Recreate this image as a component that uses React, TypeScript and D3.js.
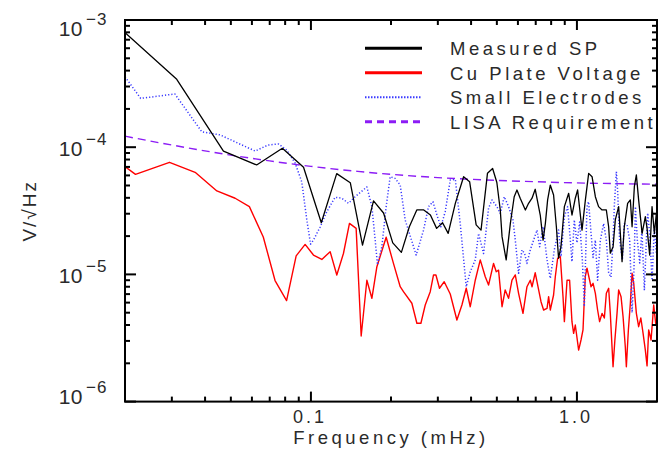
import React, { useEffect, useRef } from "react";
import * as d3 from "d3";

const WIDTH = 665;
const HEIGHT = 468;

// Measured SP (frequency in mHz, amplitude in V/sqrt(Hz))
const FREQ_SP = [
  0.0156, 0.0313, 0.0469, 0.0625, 0.0781, 0.0938, 0.1094, 0.125, 0.1406, 0.1563,
  0.1719, 0.1875, 0.2031, 0.2188, 0.2344, 0.25, 0.2656, 0.2813, 0.2969, 0.3125,
  0.3281, 0.349, 0.375, 0.395, 0.418, 0.436, 0.461, 0.482, 0.5, 0.515,
  0.523, 0.542, 0.562, 0.581, 0.595, 0.612, 0.64, 0.658, 0.678, 0.697,
  0.728, 0.746, 0.761, 0.776, 0.794, 0.817, 0.837, 0.853, 0.871, 0.897,
  0.931, 0.958, 0.986, 1.006, 1.045, 1.076, 1.107, 1.14, 1.173, 1.206,
  1.243, 1.29, 1.316, 1.335, 1.367, 1.394, 1.435, 1.456, 1.478, 1.507,
  1.551, 1.588, 1.612, 1.644, 1.673, 1.706, 1.758, 1.808, 1.835, 1.877,
  1.916, 1.955, 1.989,
];
const VAL_SP = [
  1.27e-3, 3.42e-4, 9.3e-5, 7.25e-5, 9.8e-5, 6.95e-5, 2.55e-5, 6.2e-5, 5.26e-5, 1.7e-5,
  3.79e-5, 3.04e-5, 1.77e-5, 1.49e-5, 2.37e-5, 3.21e-5, 3.21e-5, 2.93e-5, 2.3e-5, 2.55e-5,
  2.1e-5, 3.62e-5, 5.86e-5, 5.36e-5, 2.45e-5, 2.23e-5, 6.23e-5, 6.8e-5, 5.28e-5, 3.21e-5,
  1.98e-5, 1.3e-5, 2.52e-5, 4.08e-5, 4.61e-5, 3.97e-5, 3.21e-5, 3.62e-5, 3.97e-5, 4.67e-5,
  2.93e-5, 1.86e-5, 2.52e-5, 3.85e-5, 5.04e-5, 4.21e-5, 2.37e-5, 1.34e-5, 1.65e-5, 3.41e-5,
  4.34e-5, 2.93e-5, 3.97e-5, 4.61e-5, 2.23e-5, 3.85e-5, 6.23e-5, 5.86e-5, 4.08e-5, 3.41e-5,
  3.21e-5, 3.21e-5, 2.37e-5, 1.47e-5, 1.64e-5, 2.68e-5, 3.41e-5, 2.1e-5, 1.26e-5, 2.37e-5,
  3.62e-5, 3.85e-5, 2.37e-5, 4.89e-5, 6.05e-5, 3.85e-5, 2.1e-5, 2.84e-5, 2.31e-5, 1.42e-5,
  3.41e-5, 2.1e-5, 3.02e-5,
];

// Cu plate voltage
const FREQ_CU = [
  0.02, 0.0219, 0.0294, 0.0367, 0.0443, 0.0519, 0.0587, 0.0662, 0.0733, 0.081,
  0.088, 0.0951, 0.1022, 0.1099, 0.1181, 0.1251, 0.1325, 0.1396, 0.1479, 0.1545,
  0.1623, 0.1695, 0.177, 0.1918, 0.2043, 0.2166, 0.2228, 0.2396, 0.2502, 0.2591,
  0.269, 0.2809, 0.289, 0.2951, 0.3043, 0.317, 0.334, 0.3538, 0.3695, 0.3836,
  0.3972, 0.4148, 0.4331, 0.4523, 0.4654, 0.4859, 0.4974, 0.5074, 0.523, 0.5374,
  0.5534, 0.57, 0.5865, 0.6035, 0.6269, 0.6489, 0.6679, 0.678, 0.697, 0.7328,
  0.7494, 0.772, 0.7827, 0.794, 0.817, 0.8293, 0.8462, 0.866, 0.8866, 0.897,
  0.918, 0.9386, 0.958, 0.9719, 0.986, 1.015, 1.036, 1.054, 1.075, 1.091,
  1.13, 1.15, 1.173, 1.196, 1.217, 1.243, 1.268, 1.29, 1.316, 1.335,
  1.355, 1.367, 1.389, 1.415, 1.435, 1.465, 1.491, 1.52, 1.534, 1.561,
  1.588, 1.612, 1.635, 1.673, 1.706, 1.739, 1.773, 1.808, 1.835, 1.861,
  1.9, 1.944, 1.977, 2.0,
];
const VAL_CU = [
  7.03e-5, 6.12e-5, 7.61e-5, 6.35e-5, 4.53e-5, 3.97e-5, 3.41e-5, 1.97e-5, 8.95e-6, 6.23e-6,
  1.4e-5, 1.72e-5, 1.42e-5, 1.31e-5, 1.51e-5, 9.9e-6, 1.46e-5, 2.52e-5, 2.3e-5, 3.28e-6,
  9.0e-6, 6.49e-6, 1.15e-5, 1.96e-5, 1.22e-5, 8.0e-6, 7.31e-6, 5.93e-6, 4.13e-6, 4.13e-6,
  5.75e-6, 7.31e-6, 9.9e-6, 9.9e-6, 7.78e-6, 8.76e-6, 7.01e-6, 4.38e-6, 5.75e-6, 7.78e-6,
  5.57e-6, 9.0e-6, 1.3e-5, 9.59e-6, 8.25e-6, 1.22e-5, 1.05e-5, 1.08e-5, 5.57e-6, 7.54e-6,
  6.49e-6, 9.0e-6, 9.9e-6, 7.1e-6, 4.94e-6, 8.0e-6, 9.0e-6, 8.0e-6, 1.03e-5, 6.1e-6,
  5.25e-6, 5.41e-6, 6.68e-6, 5.25e-6, 6.89e-6, 9.59e-6, 1.34e-5, 1.38e-5, 6.68e-6, 4.25e-6,
  9.0e-6, 9.0e-6, 4.25e-6, 3.44e-6, 4.0e-6, 2.54e-6, 3.05e-6, 3.66e-6, 9.59e-6, 1.12e-5,
  8.0e-6, 8.51e-6, 7.1e-6, 5.25e-6, 4.25e-6, 4.94e-6, 4.54e-6, 7.1e-6, 7.78e-6, 4.94e-6,
  2.7e-6, 1.88e-6, 3.05e-6, 4.94e-6, 7.54e-6, 6.68e-6, 4.65e-6, 2.7e-6, 1.88e-6, 3.66e-6,
  5.93e-6, 1.02e-5, 8.51e-6, 4.94e-6, 3.88e-6, 4.54e-6, 3.44e-6, 2.54e-6, 1.91e-6, 3.66e-6,
  3.05e-6, 5.75e-6, 4.13e-6, 3.88e-6,
];

// Small electrodes
const FREQ_SE = [
  0.02, 0.0229, 0.0308, 0.0389, 0.0455, 0.0617, 0.069, 0.0755, 0.0811, 0.0872,
  0.0924, 0.0965, 0.0997, 0.1022, 0.1083, 0.1147, 0.1233, 0.1307, 0.1384, 0.1466,
  0.1623, 0.1695, 0.1744, 0.1779, 0.1848, 0.1918, 0.1986, 0.2073, 0.2166, 0.2261,
  0.2487, 0.2651, 0.2768, 0.2875, 0.2976, 0.308, 0.3198, 0.334, 0.349, 0.3641,
  0.3836, 0.3972, 0.4148, 0.4268, 0.4457, 0.4654, 0.4793, 0.5, 0.515, 0.5331,
  0.5534, 0.5749, 0.5865, 0.6035, 0.6216, 0.6356, 0.6489, 0.6679, 0.6873, 0.7078,
  0.7241, 0.746, 0.772, 0.794, 0.8222, 0.853, 0.871, 0.897, 0.9226, 0.9445,
  0.958, 0.9777, 1.0, 1.024, 1.048, 1.066, 1.091, 1.106, 1.13, 1.15,
  1.173, 1.196, 1.225, 1.26, 1.29, 1.316, 1.343, 1.367, 1.382, 1.407,
  1.422, 1.447, 1.482, 1.507, 1.543, 1.579, 1.612, 1.638, 1.659, 1.687,
  1.722, 1.755, 1.793, 1.824, 1.845, 1.88, 1.916, 1.955, 1.989,
];
const VAL_SE = [
  3.58e-4, 2.42e-4, 2.62e-4, 1.32e-4, 1.25e-4, 9.33e-5, 1.04e-4, 1.06e-4, 9.5e-5, 7.51e-5,
  5.33e-5, 2.68e-5, 1.73e-5, 1.86e-5, 2.36e-5, 3.11e-5, 4.04e-5, 3.97e-5, 3.62e-5, 4.08e-5,
  4.87e-5, 3.41e-5, 1.86e-5, 1.19e-5, 1.65e-5, 3.41e-5, 5.86e-5, 5.69e-5, 5.04e-5, 2.68e-5,
  1.42e-5, 2.23e-5, 3.41e-5, 3.73e-5, 2.93e-5, 2.37e-5, 3.11e-5, 5.52e-5, 5.59e-5, 2.52e-5,
  8.0e-6, 1.05e-5, 1.3e-5, 2.1e-5, 1.46e-5, 3.31e-5, 3.85e-5, 3.41e-5, 3.02e-5, 4.08e-5,
  3.41e-5, 2.68e-5, 1.86e-5, 1.02e-5, 1.56e-5, 1.46e-5, 1.22e-5, 1.56e-5, 1.86e-5, 2.23e-5,
  1.65e-5, 2.37e-5, 1.3e-5, 9.3e-6, 1.56e-5, 2.23e-5, 1.38e-5, 2.84e-5, 3.41e-5, 1.86e-5,
  1.26e-5, 2.68e-5, 1.77e-5, 2.58e-5, 1.3e-5, 5.6e-6, 3.41e-5, 3.73e-5, 2.11e-5, 1.36e-5,
  1.86e-5, 9.0e-6, 1.86e-5, 2.51e-5, 1.86e-5, 1.03e-5, 9.5e-6, 1.86e-5, 3.41e-5, 6.42e-5,
  4.61e-5, 1.86e-5, 1.3e-5, 2.51e-5, 2.45e-5, 1.86e-5, 5.0e-6, 1.08e-5, 3.41e-5, 1.86e-5,
  1.23e-5, 2.23e-5, 7.5e-6, 1.86e-5, 3.04e-5, 2.02e-5, 9.0e-6, 2.36e-5, 1.47e-5,
];

// LISA requirement
const FREQ_LISA = [0.02, 0.03, 0.05, 0.07, 0.1, 0.15, 0.2, 0.3, 0.5, 0.7, 1.0, 1.5, 2.0];
const VAL_LISA = [
  1.22e-4, 1.04e-4, 8.66e-5, 7.8e-5, 7.07e-5, 6.45e-5, 6.12e-5, 5.77e-5, 5.48e-5, 5.35e-5,
  5.24e-5, 5.16e-5, 5.12e-5,
];

const LEGEND_LABELS = ["Measured SP", "Cu Plate Voltage", "Small Electrodes", "LISA Requirement"];
const Y_TICK_EXPONENTS = [-3, -4, -5, -6];
const X_TICK_VALUES = [0.1, 1];
const X_TICK_LABELS = ["0.1", "1.0"];

const FONT = "'Liberation Sans', Arial, sans-serif";
const TEXT_COLOR = "#2a2a2a";

export default function App() {
  const svgRef = useRef<SVGSVGElement>(null);

  useEffect(() => {
    if (!svgRef.current) return;
    const svg = d3.select(svgRef.current);
    svg.selectAll("*").remove();

    const margin = { top: 20, right: 8, bottom: 66.4, left: 125 };
    const x0 = margin.left;
    const x1 = WIDTH - margin.right;
    const y0 = margin.top;
    const y1 = HEIGHT - margin.bottom;

    const xScale = d3.scaleLog().domain([0.02, 2]).range([x0, x1]);
    const yScale = d3.scaleLog().domain([1e-6, 1e-3]).range([y1, y0]);

    svg.append("rect").attr("width", WIDTH).attr("height", HEIGHT).attr("fill", "#fff");

    svg
      .append("defs")
      .append("clipPath")
      .attr("id", "plot-clip")
      .append("rect")
      .attr("x", x0)
      .attr("y", y0)
      .attr("width", x1 - x0)
      .attr("height", y1 - y0);

    const series = [
      { f: FREQ_SP, v: VAL_SP, color: "#000", width: 1.3, dash: null, curve: d3.curveLinear },
      { f: FREQ_CU, v: VAL_CU, color: "#ff0000", width: 1.4, dash: null, curve: d3.curveLinear },
      { f: FREQ_SE, v: VAL_SE, color: "#3a3aff", width: 1.5, dash: "1.2,2", curve: d3.curveLinear },
      { f: FREQ_LISA, v: VAL_LISA, color: "#8c1cf5", width: 1.4, dash: "8,5", curve: d3.curveMonotoneX },
    ];

    const plot = svg.append("g").attr("clip-path", "url(#plot-clip)");

    // LISA first, measured SP last so it sits on top
    const order = [3, 1, 2, 0];
    order.forEach((i) => {
      const s = series[i];
      const pts: [number, number][] = s.f.map((f, j) => [f, s.v[j]]);
      const line = d3
        .line<[number, number]>()
        .x((d) => xScale(d[0]))
        .y((d) => yScale(d[1]))
        .curve(s.curve);
      plot
        .append("path")
        .datum(pts)
        .attr("fill", "none")
        .attr("stroke", s.color)
        .attr("stroke-width", s.width)
        .attr("stroke-dasharray", s.dash)
        .attr("stroke-linejoin", "round")
        .attr("d", line);
    });

    // Frame
    svg
      .append("rect")
      .attr("x", x0)
      .attr("y", y0)
      .attr("width", x1 - x0)
      .attr("height", y1 - y0)
      .attr("fill", "none")
      .attr("stroke", "#000")
      .attr("stroke-width", 2);

    const ticks = svg.append("g").attr("stroke", "#000").attr("stroke-width", 2);

    // Y ticks (log minor ticks)
    for (let e = -6; e <= -3; e++) {
      for (let m = 1; m <= 9; m++) {
        const v = m * Math.pow(10, e);
        if (v < 1e-6 || v > 1e-3 * 1.0001) continue;
        const y = yScale(v);
        const len = m === 1 ? 11 : 5;
        ticks.append("line").attr("x1", x0).attr("x2", x0 + len).attr("y1", y).attr("y2", y);
        ticks.append("line").attr("x1", x1).attr("x2", x1 - len).attr("y1", y).attr("y2", y);
      }
    }

    // X ticks
    for (let e = -2; e <= 0; e++) {
      for (let m = 1; m <= 9; m++) {
        const f = m * Math.pow(10, e);
        if (f < 0.02 * 0.9999 || f > 2.0001) continue;
        const x = xScale(f);
        const len = m === 1 ? 10 : 5;
        ticks.append("line").attr("x1", x).attr("x2", x).attr("y1", y1).attr("y2", y1 - len);
        ticks.append("line").attr("x1", x).attr("x2", x).attr("y1", y0).attr("y2", y0 + len);
      }
    }

    // Y tick labels 10^e
    Y_TICK_EXPONENTS.forEach((e) => {
      const y = yScale(Math.pow(10, e));
      const base = Math.min(Math.max(y + 9, y0 + 16), y1 + 2);
      svg
        .append("text")
        .attr("x", 83)
        .attr("y", base)
        .attr("text-anchor", "end")
        .attr("fill", TEXT_COLOR)
        .style("font-family", FONT)
        .style("font-size", "21px")
        .style("letter-spacing", "0.5px")
        .text("10");
      svg
        .append("text")
        .attr("x", 86)
        .attr("y", base - 11)
        .attr("fill", TEXT_COLOR)
        .style("font-family", FONT)
        .style("font-size", "17px")
        .style("letter-spacing", "1px")
        .text("\u2212" + Math.abs(e));
    });

    // X tick labels
    X_TICK_VALUES.forEach((f, i) => {
      svg
        .append("text")
        .attr("x", xScale(f) - 1)
        .attr("y", 423)
        .attr("text-anchor", "middle")
        .attr("fill", TEXT_COLOR)
        .style("font-family", FONT)
        .style("font-size", "18px")
        .style("letter-spacing", "3px")
        .text(X_TICK_LABELS[i]);
    });

    // Axis titles
    svg
      .append("text")
      .attr("x", (x0 + x1) / 2)
      .attr("y", 444)
      .attr("text-anchor", "middle")
      .attr("fill", TEXT_COLOR)
      .style("font-family", FONT)
      .style("font-size", "18.5px")
      .style("letter-spacing", "3.5px")
      .text("Frequency (mHz)");

    svg
      .append("text")
      .attr("transform", `translate(36,${(y0 + y1) / 2}) rotate(-90)`)
      .attr("text-anchor", "middle")
      .attr("fill", TEXT_COLOR)
      .style("font-family", FONT)
      .style("font-size", "19px")
      .style("letter-spacing", "2px")
      .text("V/\u221AHz");

    // Legend
    const legend = svg.append("g");
    LEGEND_LABELS.forEach((label, i) => {
      const s = series[i];
      const ly = 48.3 + i * 24.5;
      legend
        .append("line")
        .attr("x1", 365)
        .attr("x2", 422)
        .attr("y1", ly)
        .attr("y2", ly)
        .attr("stroke", s.color)
        .attr("stroke-width", i === 2 ? 2 : 3)
        .attr("stroke-dasharray", i === 2 ? "1.5,1.5" : i === 3 ? "7,5" : null);
      legend
        .append("text")
        .attr("x", 450)
        .attr("y", ly + 6.7)
        .attr("fill", TEXT_COLOR)
        .style("font-family", FONT)
        .style("font-size", "18.5px")
        .style("letter-spacing", "3.5px")
        .text(label);
    });
  }, []);

  return (
    <svg
      ref={svgRef}
      width={WIDTH}
      height={HEIGHT}
      style={{ display: "block", position: "absolute", left: 0, top: 0 }}
    />
  );
}
